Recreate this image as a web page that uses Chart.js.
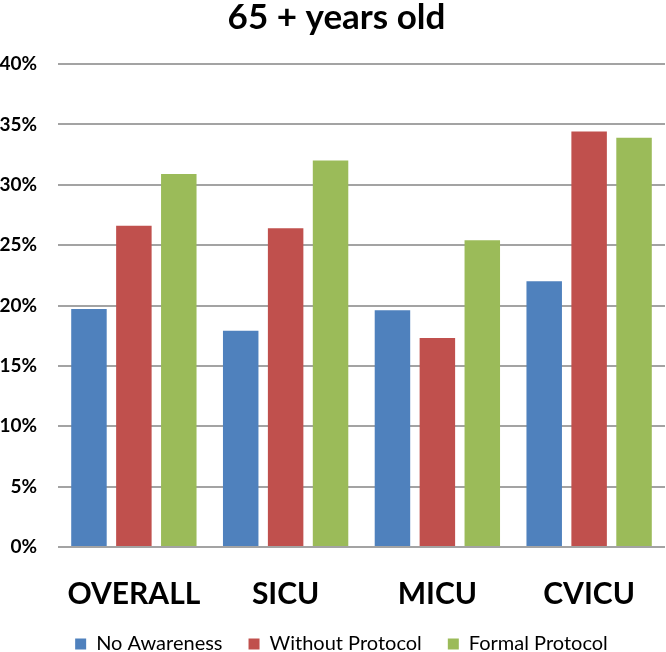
<!DOCTYPE html>
<html>
<head>
<meta charset="utf-8">
<script src="https://cdn.jsdelivr.net/npm/chart.js@4.4.1/dist/chart.umd.min.js"></script>
<style>
  html, body { margin: 0; padding: 0; background: #fff; }
  #wrap { width: 666px; height: 652px; }
</style>
</head>
<body>
<div id="wrap"><canvas id="c"></canvas></div>
<script>
/* 65+ years old — grouped bars by ICU type */
const categories = ["OVERALL", "SICU", "MICU", "CVICU"];
const noAwareness = [19.7, 17.9, 19.6, 22.0];
const withoutProtocol = [26.6, 26.4, 17.3, 34.4];
const formalProtocol = [30.9, 32.0, 25.4, 33.9];
const yTicks = [0, 5, 10, 15, 20, 25, 30, 35, 40];

const COL = { blue: "#4f81bd", red: "#c0504d", green: "#9bbb59", grid: "#a3a3a3" };
const FONT = "Lato, 'Open Sans', sans-serif";

const ds = (label, data, color) => ({
  label, data,
  backgroundColor: color,
  borderWidth: 0,
  categoryPercentage: 0.888,
  barPercentage: 0.79,
});

// the original's legend and title sit a little right of the canvas centre
const nudge = {
  id: "nudge",
  afterLayout(chart) {
    chart.legend.left += 9; chart.legend.right += 9;
    chart.titleBlock.left += 4; chart.titleBlock.right += 4;
  },
};

new Chart(document.getElementById("c"), {
  type: "bar",
  data: {
    labels: categories,
    datasets: [
      ds("No Awareness", noAwareness, COL.blue),
      ds("Without Protocol", withoutProtocol, COL.red),
      ds("Formal Protocol", formalProtocol, COL.green),
    ],
  },
  plugins: [nudge],
  options: {
    responsive: true,
    maintainAspectRatio: false,
    animation: false,
    // negative bottom pad pushes the legend down to the canvas edge
    layout: { padding: { top: 0, right: 1, bottom: -12, left: 0 } },
    plugins: {
      title: {
        display: true,
        text: "65 + years old",
        color: "#000",
        font: { family: FONT, size: 35, weight: "bold", lineHeight: 1 },
        padding: { top: 0, bottom: 29 },
      },
      legend: {
        position: "bottom",
        labels: {
          color: "#000",
          font: { family: FONT, size: 20 },
          boxWidth: 11,
          boxHeight: 11,
          padding: 26,
        },
      },
      tooltip: { enabled: false },
    },
    scales: {
      x: {
        afterFit: s => { s.height = 61; },
        grid: { display: false },
        border: { display: false },
        ticks: { color: "#000", font: { family: FONT, size: 30, weight: "bold" }, padding: 21 },
      },
      y: {
        min: 0, max: 40,
        afterFit: s => { s.width = 58; },
        afterBuildTicks: s => { s.ticks = yTicks.map(v => ({ value: v })); },
        grid: { color: COL.grid, lineWidth: 2, drawTicks: false },
        border: { display: false },
        ticks: {
          color: "#000",
          padding: 21,
          font: { family: FONT, size: 19, weight: "bold" },
          callback: v => v + "%",
        },
      },
    },
  },
});
</script>
</body>
</html>
